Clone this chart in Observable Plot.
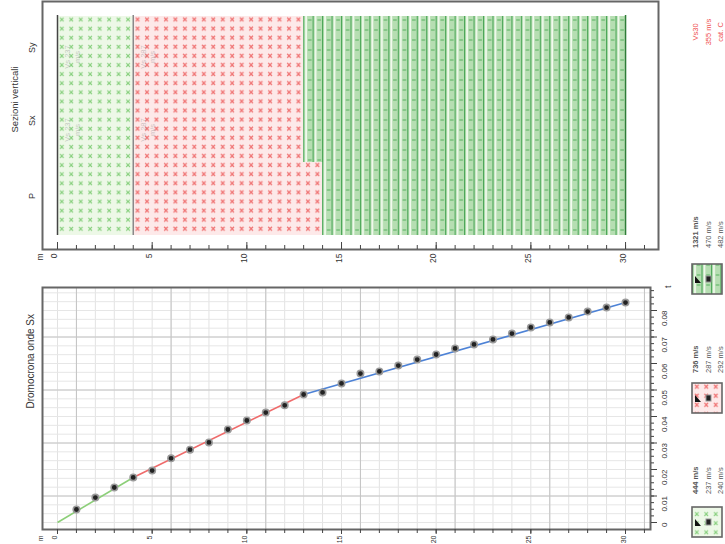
<!DOCTYPE html>
<html><head><meta charset="utf-8">
<script src="https://cdn.jsdelivr.net/npm/d3@7"></script>
<script src="https://cdn.jsdelivr.net/npm/@observablehq/plot@0.6"></script>
<style>
body{margin:0;background:#fff;font-family:"Liberation Sans",Arial,sans-serif}
#wrap{position:relative;width:725px;height:544px;overflow:hidden;background:#fff}
#wrap > svg{position:absolute;left:0}
</style></head><body><div id="wrap"></div>
<script>
// ---------- data ----------
const sections = ["Sy", "Sx", "P"];
const layerSection = ["P", "P", "P", "Sx", "Sx", "Sx", "Sy", "Sy", "Sy"];
const layerTop = [0, 4, 14, 0, 4, 13, 0, 4, 13];
const layerBottom = [4, 14, 30, 4, 13, 30, 4, 13, 30];
const layerKind = ["g", "r", "d", "g", "r", "d", "g", "r", "d"];
const depthTicks = [0, 5, 10, 15, 20, 25, 30];
const depthLabels = ["0", "5", "10", "15", "20", "25", "30"];
const ghostSection = ["Sy", "Sy", "Sx", "Sx"];
const ghostDepth = [0.77, 4.75, 0.77, 4.75];
const ghostText = ["Vs 237\nm/s", "Vs 287\nm/s", "Vs 237\nm/s", "Vs 287\nm/s"];

const distances = [1,2,3,4,5,6,7,8,9,10,11,12,13,14,15,16,17,18,19,20,21,22,23,24,25,26,27,28,29,30];
const times = [0.0049,0.0094,0.0132,0.0170,0.0196,0.0242,0.0275,0.0302,0.0351,0.0385,0.0415,0.0442,0.0483,0.0491,0.0525,0.0562,0.0570,0.0592,0.0615,0.0634,0.0657,0.0672,0.0691,0.0713,0.0736,0.0755,0.0774,0.0796,0.0811,0.0830];
const fitX = [0, 4, 13, 30];
const fitT = [0, 0.0170, 0.0483, 0.0830];
const fitColor = ["#8ccf78", "#ef6b6b", "#4d82d6"];
const timeTicks = [0, 0.01, 0.02, 0.03, 0.04, 0.05, 0.06, 0.07, 0.08];
const timeLabels = ["0", "0.01", "0.02", "0.03", "0.04", "0.05", "0.06", "0.07", "0.08"];
const timeMajorGrid = [0.01, 0.03, 0.05, 0.07];
const distMajorGrid = [1, 6, 11, 16, 21, 26, 31];

const legendKind = ["d", "r", "g"];
const legendLines = [
  ["1321 m/s", "470 m/s", "482 m/s"],
  ["736 m/s", "287 m/s", "292 m/s"],
  ["444 m/s", "237 m/s", "240 m/s"]
];
const summaryLines = ["Vs30", "355 m/s", "cat. C"];

// ---------- layout ----------
const FONT = "'Liberation Sans', Arial, sans-serif";
const wrap = document.getElementById("wrap");
const layers = layerSection.map((s, i) => ({s, a: layerTop[i], b: layerBottom[i], k: layerKind[i]}));
const ghosts = ghostSection.map((s, i) => ({s, x: ghostDepth[i], t: ghostText[i]}));
const points = distances.map((d, i) => ({d, t: times[i]}));
const segs = fitColor.map((c, i) => ({x1: fitX[i], y1: fitT[i], x2: fitX[i + 1], y2: fitT[i + 1], c}));
const unitTicks = d3.range(0, 32);
const minorTimeGrid = d3.range(0, 27).map(i => i * 0.01 / 3);
const minorTimeTicks = d3.range(0, 36).map(i => i * 0.0025);

function patternDefs(prefix, x0, y0) {
  return `
<pattern id="${prefix}-g" patternUnits="userSpaceOnUse" x="${x0}" y="${y0}" width="9.4665" height="9.1">
  <rect width="9.4665" height="9.1" fill="#edf8e7"/>
  <path d="M3,2.6 L6.6,6.4 M6.6,2.6 L3,6.4" stroke="#86cf7c" stroke-width="1.1" fill="none"/>
</pattern>
<pattern id="${prefix}-r" patternUnits="userSpaceOnUse" x="${x0}" y="${y0}" width="9.4665" height="9.1">
  <rect width="9.4665" height="9.1" fill="#fde9e9"/>
  <path d="M3,2.6 L6.6,6.4 M6.6,2.6 L3,6.4" stroke="#f07474" stroke-width="1.3" fill="none"/>
</pattern>
<pattern id="${prefix}-d" patternUnits="userSpaceOnUse" x="${x0}" y="${y0}" width="9.4665" height="10">
  <rect width="9.4665" height="10" fill="#b6deb2"/>
  <rect x="0" width="1.1" height="10" fill="#4aa556"/>
  <rect x="2.1" width="1.8" height="10" fill="#f3fbef"/>
  <path d="M4.8,5 H8.4" stroke="#5cb464" stroke-width="1.1"/>
</pattern>`;
}

// ---------- top panel: vertical sections ----------
const topPlot = Plot.plot({
  width: 725, height: 272,
  marginLeft: 42, marginRight: 67, marginTop: 1, marginBottom: 23,
  x: {domain: [-0.792, 31.74], label: null},
  y: {type: "band", domain: sections, padding: 0, insetTop: 14, insetBottom: 14, label: null, axis: null},
  style: {fontFamily: FONT, fontSize: "9px", color: "#333", background: "white"},
  marks: [
    Plot.barX(layers, {filter: d => d.k === "g", y: "s", x1: "a", x2: "b", fill: "url(#pt-g)"}),
    Plot.barX(layers, {filter: d => d.k === "r", y: "s", x1: "a", x2: "b", fill: "url(#pt-r)"}),
    Plot.barX(layers, {filter: d => d.k === "d", y: "s", x1: "a", x2: "b", fill: "url(#pt-d)"}),
    Plot.ruleX([0], {stroke: "#444", strokeWidth: 1.5, insetTop: 14, insetBottom: 14}),
    Plot.ruleX([4], {stroke: "#888", strokeWidth: 1.5, insetTop: 14, insetBottom: 14}),
    Plot.ruleX([30], {stroke: "#2f7d38", strokeWidth: 1.5, insetTop: 14, insetBottom: 14}),
    Plot.text(ghosts, {x: "x", y: "s", text: "t", rotate: -90, fill: "#888", fillOpacity: 0.45, fontSize: 7.5, lineHeight: 1.3, dy: 4}),
    Plot.frame({stroke: "#666", strokeWidth: 2}),
    Plot.axisX({ticks: unitTicks, tickSize: -4, tickFormat: () => "", label: null, stroke: "#444"}),
    Plot.axisX({ticks: depthTicks, tickSize: -7, tickFormat: () => "", label: null, stroke: "#444"}),
    Plot.text(depthTicks, {x: d => d, text: (d, i) => depthLabels[i], frameAnchor: "bottom", dy: 4, rotate: -90, textAnchor: "end", fontSize: 8.5, fill: "#333"}),
    Plot.text(["m"], {x: () => -0.74, frameAnchor: "bottom", dy: 4, rotate: -90, textAnchor: "end", fontSize: 8.5, fill: "#333"}),
    Plot.text(sections, {y: d => d, frameAnchor: "left", dx: -10, rotate: -90, fontSize: 9, fill: "#333"}),
    Plot.text(["Sezioni verticali"], {frameAnchor: "left", dx: -28, dy: 7, rotate: -90, fontSize: 9.5, fill: "#333"})
  ]
});
topPlot.style.top = "0px";
d3.select(topPlot).insert("defs", ":first-child").html(patternDefs("pt", 57, 15));
wrap.appendChild(topPlot);

// ---------- bottom panel: dromochron ----------
const botPlot = Plot.plot({
  width: 725, height: 274,
  marginLeft: 42, marginRight: 75, marginTop: 17, marginBottom: 15,
  x: {domain: [-0.792, 31.32], label: null},
  y: {domain: [-0.00264, 0.08868], label: null, axis: null},
  color: {type: "identity"},
  style: {fontFamily: FONT, fontSize: "8.5px", color: "#333", background: "white"},
  marks: [
    Plot.gridX(unitTicks, {stroke: "#e2e2e2", strokeOpacity: 1}),
    Plot.gridY(minorTimeGrid, {stroke: "#e6e6e6", strokeOpacity: 1}),
    Plot.gridX(distMajorGrid, {stroke: "#c4c4c4", strokeOpacity: 1}),
    Plot.gridY(timeMajorGrid, {stroke: "#c4c4c4", strokeOpacity: 1}),
    Plot.link(segs, {x1: "x1", y1: "y1", x2: "x2", y2: "y2", stroke: "c", strokeWidth: 1.6}),
    Plot.dot(points, {x: "d", y: "t", r: 3.2, fill: "#222", stroke: "#9a9a9a", strokeWidth: 1.6}),
    Plot.frame({stroke: "#666", strokeWidth: 2}),
    Plot.axisX({ticks: unitTicks, tickSize: 4, tickFormat: () => "", label: null, stroke: "#444"}),
    Plot.axisX({ticks: depthTicks, tickSize: 5, tickFormat: () => "", label: null, stroke: "#444"}),
    Plot.text(depthTicks, {x: d => d, text: (d, i) => depthLabels[i], frameAnchor: "bottom", dy: 6, rotate: -90, textAnchor: "end", fontSize: 7, fill: "#333"}),
    Plot.text(["m"], {x: () => -0.74, frameAnchor: "bottom", dy: 6, rotate: -90, textAnchor: "end", fontSize: 7, fill: "#333"}),
    Plot.axisY({anchor: "right", ticks: minorTimeTicks, tickSize: 3, tickFormat: () => "", label: null, stroke: "#444"}),
    Plot.axisY({anchor: "right", ticks: timeTicks, tickSize: 6, tickFormat: () => "", label: null, stroke: "#444"}),
    Plot.text(timeTicks, {y: d => d, text: (d, i) => timeLabels[i], frameAnchor: "right", dx: 14, rotate: -90, fontSize: 8, fill: "#333"}),
    Plot.text(["t"], {frameAnchor: "top-right", dx: 14, dy: -2, rotate: -90, fontSize: 8.5, fill: "#333"}),
    Plot.text(["Dromocrona onde Sx"], {frameAnchor: "left", dx: -12, rotate: -90, fontSize: 10, fill: "#333"})
  ]
});
botPlot.style.top = "270px";
wrap.appendChild(botPlot);

// ---------- legend (right column) ----------
const leg = d3.create("svg").attr("width", 725).attr("height", 544)
  .style("top", "0px").style("pointer-events", "none").style("font-family", FONT);
leg.append("defs").html(patternDefs("lp", 692, 0));
const boxTop = [264, 383, 507];
const textBottom = [248, 373, 494];
const colX = [695, 708, 720];
legendKind.forEach((k, i) => {
  const g = leg.append("g");
  g.append("rect").attr("x", 692).attr("y", boxTop[i]).attr("width", 30).attr("height", 30)
    .attr("fill", `url(#lp-${k})`).attr("stroke", "#666").attr("stroke-width", 1.6);
  const cy = boxTop[i] + 15;
  g.append("path").attr("d", `M695,${cy + 4} L701,${cy + 4} L695,${cy - 3} Z`).attr("fill", "#111");
  g.append("rect").attr("x", 706).attr("y", cy - 3).attr("width", 5).attr("height", 6)
    .attr("fill", "#222").attr("stroke", "#999").attr("stroke-width", 1);
  legendLines[i].forEach((t, j) => {
    g.append("text").attr("transform", `translate(${colX[j]},${textBottom[i]}) rotate(-90)`)
      .attr("dominant-baseline", "central").attr("font-size", 7.5).attr("fill", "#555")
      .attr("font-weight", j === 0 ? "bold" : "normal").text(t);
  });
});
summaryLines.forEach((t, j) => {
  leg.append("text").attr("transform", `translate(${colX[j]},32) rotate(-90)`)
    .attr("dominant-baseline", "central").attr("text-anchor", "middle")
    .attr("font-size", 7.5).attr("fill", "#ef4f4f").text(t);
});
wrap.appendChild(leg.node());
</script></body></html>
